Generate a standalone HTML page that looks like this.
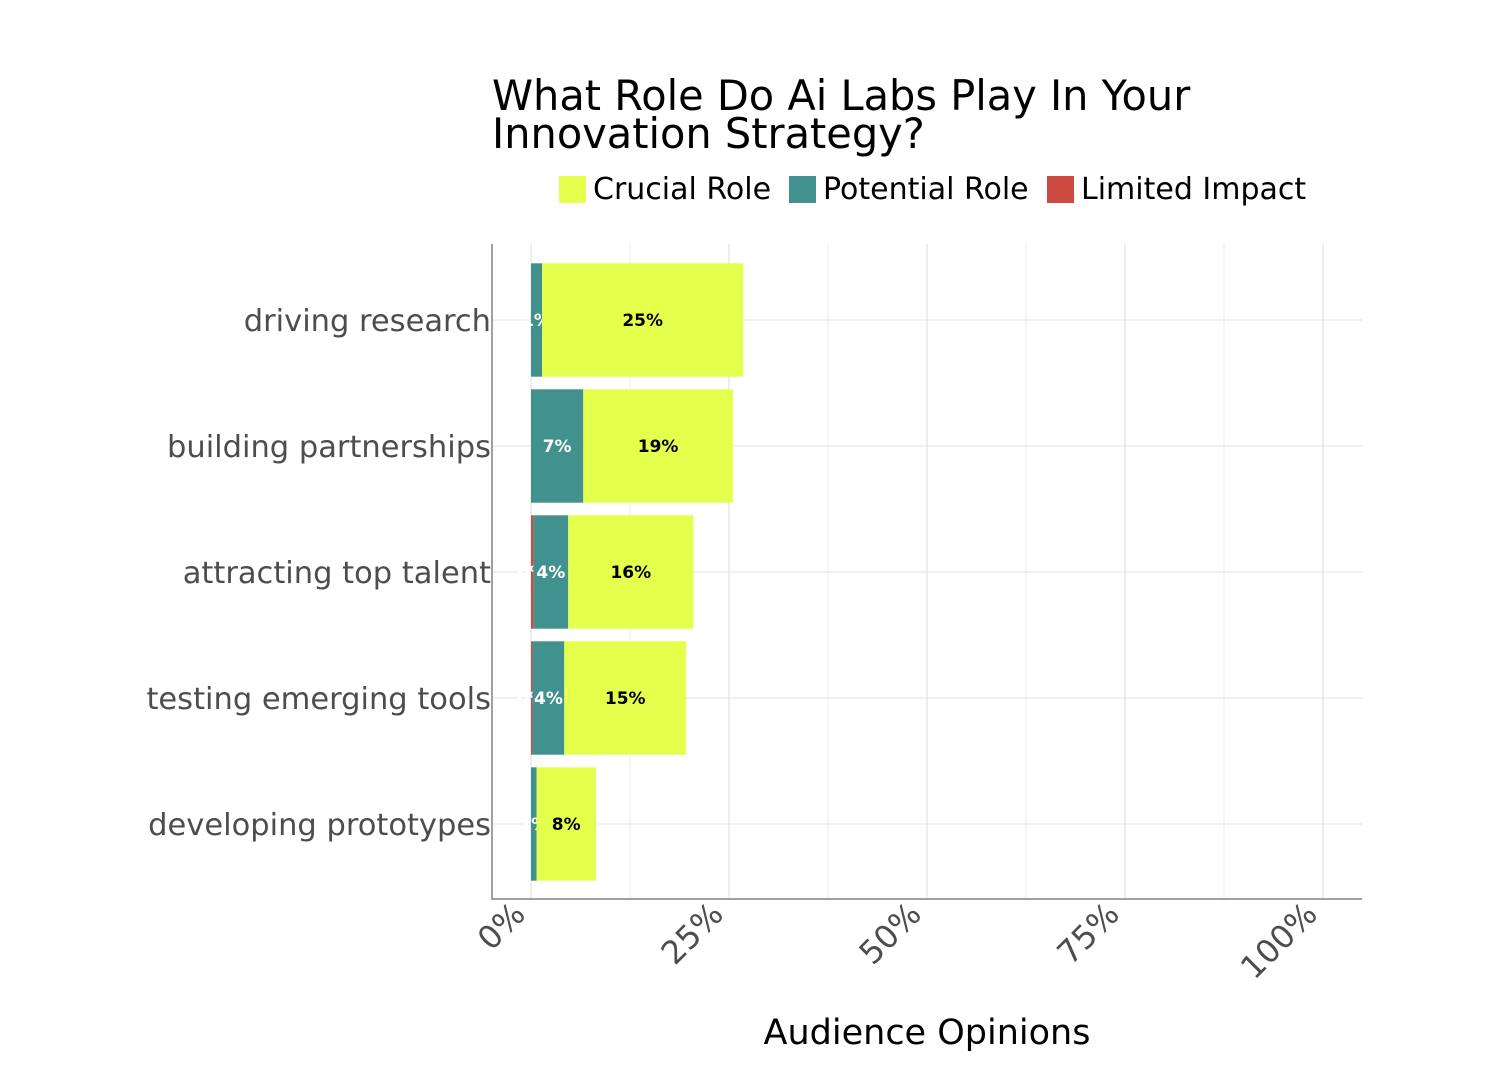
<!DOCTYPE html>
<html><head><meta charset="utf-8"><style>
body{margin:0;background:#fff;}
svg{display:block;font-family:"DejaVu Sans","Liberation Sans",sans-serif;}
</style></head><body>
<svg id="chart" width="1510" height="1068" viewBox="0 0 1510 1068">
<text x="492" y="110" font-size="41.5" fill="#000">What Role Do Ai Labs Play In Your</text>
<text x="492" y="148" font-size="41.5" fill="#000">Innovation Strategy?</text>
<g>
<g><rect x="559" y="176" width="27" height="27" fill="#e5ff4d"/><text x="593" y="199" font-size="30">Crucial Role</text></g>
<g><rect x="789" y="176" width="27" height="27" fill="#41928f"/><text x="823" y="199" font-size="30">Potential Role</text></g>
<g><rect x="1047" y="176" width="27" height="27" fill="#cc4a40"/><text x="1081" y="199" font-size="30">Limited Impact</text></g>
</g>
<g id="grid"></g>
<g id="bars"></g>
<g id="axes"></g>
<text x="927" y="1044" font-size="35" text-anchor="middle" fill="#000">Audience Opinions</text>
</svg>
<script>
const categories=["driving research","building partnerships","attracting top talent","testing emerging tools","developing prototypes"];
const limitedImpact=[0,0,0.3,0.2,0];
const potentialRole=[1.4,6.6,4.4,4.0,0.7];
const crucialRole=[25.4,18.9,15.8,15.4,7.5];
const tickValues=[0,25,50,75,100];
const tickLabels=["0%","25%","50%","75%","100%"];
const NS="http://www.w3.org/2000/svg";
const L=492,R=1362,T=244,B=899,BT=257,BB=887;
const x=v=>531+v*7.92;
const band=(BB-BT)/categories.length;
const y=i=>BT+band*i;
function mk(tag,attrs,parent){const e=document.createElementNS(NS,tag);for(const k in attrs)e.setAttribute(k,attrs[k]);parent.appendChild(e);return e;}
const grid=document.getElementById('grid'),bars=document.getElementById('bars'),axes=document.getElementById('axes');
for(let v=0;v<=100;v+=12.5){
 const g=mk('line',{x1:x(v),x2:x(v),y1:T,y2:B,stroke:v%25===0?'#dcdcdc':'#ececec','stroke-width':1},grid);
 
 
}
categories.forEach((c,i)=>{
 const cy=y(i)+band/2;
 const g=mk('line',{x1:L,x2:R,y1:cy,y2:cy,stroke:'#e3e3e3','stroke-width':1},grid);
 
 
 const segs=[[limitedImpact[i],'#cc4a40','limited'],[potentialRole[i],'#41928f','potential'],[crucialRole[i],'#e5ff4d','crucial']];
 let acc=0;const h=band*0.9;
 segs.forEach(s=>{
  if(s[0]<=0)return;
  const r=mk('rect',{x:x(acc),y:cy-h/2,width:x(acc+s[0])-x(acc),height:h,fill:s[1]},bars);
  
  
  const t=mk('text',{x:(x(acc)+x(acc+s[0]))/2,y:cy+6,'text-anchor':'middle','font-size':17,'font-weight':'bold',fill:s[2]==='crucial'?'#000':'#fff'},bars);
  t.textContent=Math.round(s[0])+'%';
  
  
  acc+=s[0];
 });
 const lab=mk('text',{x:L-1,y:cy+11,'text-anchor':'end','font-size':30.5,fill:'#4d4d4d'},axes);
 lab.textContent=c;
 
 
});
const ax=mk('path',{d:`M${L},${T}V${B}H${R}`,stroke:'#a0a0a0','stroke-width':2,fill:'none'},axes);


tickValues.forEach((v,i)=>{
 const t=mk('text',{x:0,y:0,'text-anchor':'end','font-size':32,fill:'#4d4d4d',transform:`translate(${x(v)-4},${916}) rotate(-45)`},axes);
 t.textContent=tickLabels[i];
 
 
});
</script>
</body></html>
